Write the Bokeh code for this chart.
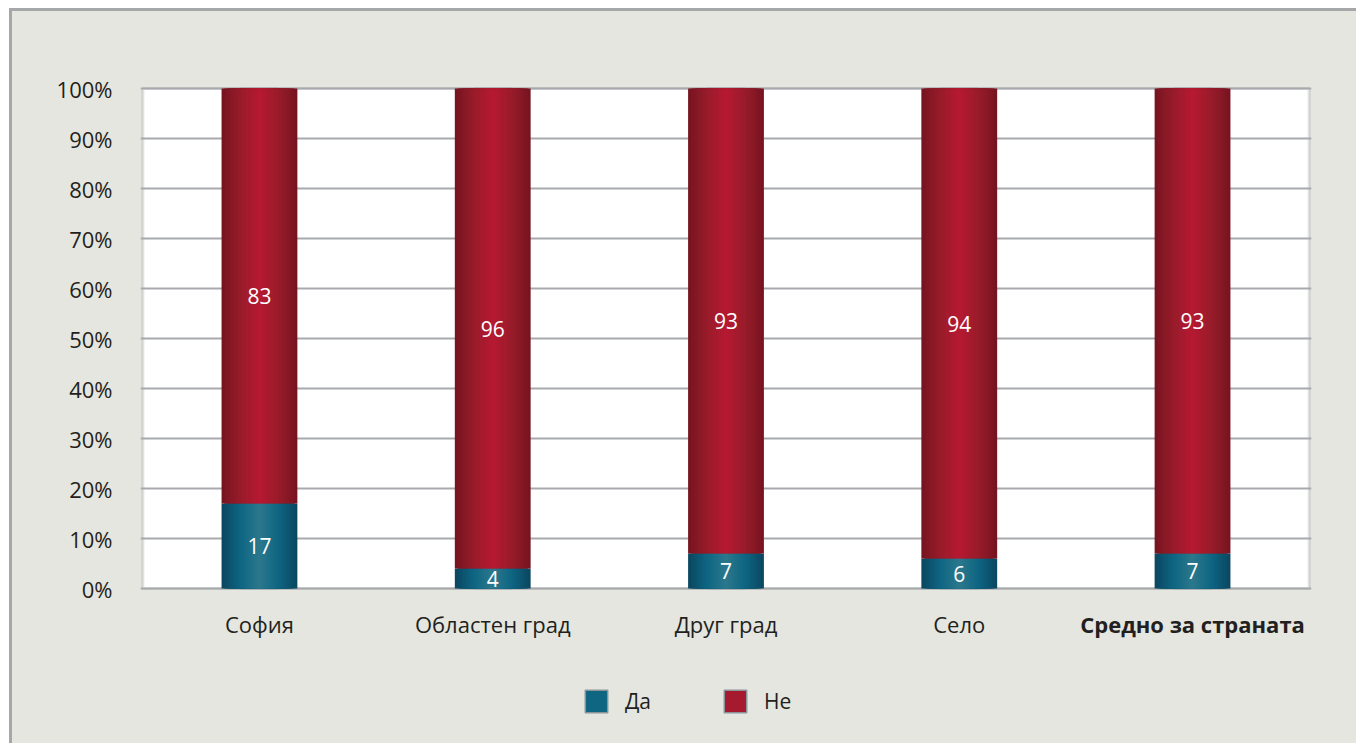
from bokeh.plotting import figure
from bokeh.models import ColumnDataSource, Legend, LegendItem, FixedTicker, BoxAnnotation, FactorRange, Range1d
from bokeh.core.properties import value
from bokeh.embed import file_html
from bokeh.resources import INLINE

# ---- data ----
categories = ["София", "Областен град", "Друг град", "Село", "Средно за страната"]
da = [17, 4, 7, 6, 7]
ne = [83, 96, 93, 94, 93]
series_names = ["Да", "Не"]
y_ticks = [0, 10, 20, 30, 40, 50, 60, 70, 80, 90, 100]
y_tick_labels = ["0%", "10%", "20%", "30%", "40%", "50%", "60%", "70%", "80%", "90%", "100%"]
bold_category = "Средно за страната"

# ---- styles / layout ----
FONT = "Open Sans"
FS = "21px"
FS_AX = "22px"
BG = "#e4e6df"
TXT = "#231f20"
BAR_W = 0.325
N_LAYERS = 14
Y_BOTTOM = -31          # extra room below 0% for category labels and legend
Y_TOP_PAD = 0.6         # keeps the top frame line inside the plotting area
CAT_LABEL_Y = -7.0
red_edge, red_mid, red_center = (0x78, 0x14, 0x20), (0x98, 0x1c, 0x2a), (0xb4, 0x19, 0x31)
teal_edge, teal_mid, teal_center = (0x0b, 0x48, 0x62), (0x0e, 0x66, 0x82), (0x2a, 0x76, 0x8b)


def blend(c0, c1, c2, t):
    if t < 0.5:
        a, b, u = c0, c1, t / 0.5
    else:
        a, b, u = c1, c2, (t - 0.5) / 0.5
    return "#%02x%02x%02x" % tuple(int(round(a[i] + (b[i] - a[i]) * u)) for i in range(3))


totals = [d + n for d, n in zip(da, ne)]
src = ColumnDataSource(dict(
    cat=categories,
    da=da,
    ne=ne,
    total=totals,
    zero=[0] * len(categories),
    da_mid=[d / 2 for d in da],
    ne_mid=[d + n / 2 for d, n in zip(da, ne)],
    da_txt=[str(d) for d in da],
    ne_txt=[str(n) for n in ne],
))

p = figure(
    x_range=FactorRange(factors=categories, range_padding=0.01, range_padding_units="absolute"),
    y_range=Range1d(Y_BOTTOM, y_ticks[-1] + Y_TOP_PAD),
    frame_width=1171, frame_height=658,
    min_border_left=128, min_border_right=45, min_border_top=74, min_border_bottom=0,
    output_backend="svg", toolbar_location=None,
    background_fill_color=None, border_fill_color=None,
)
p.styles = {"border-left": "3px solid #a6a7a9", "border-top": "3px solid #a6a7a9",
            "margin-left": "9px", "margin-top": "8px", "background-color": BG}
p.outline_line_color = None
p.xaxis.visible = False

# white plot area 0..100% with grey frame
p.add_layout(BoxAnnotation(left=0, right=len(categories), bottom=y_ticks[0], top=y_ticks[-1],
                           fill_color="white", fill_alpha=1,
                           line_color="#9d9ea1", line_width=3, level="image"))

p.xgrid.grid_line_color = None
p.ygrid.grid_line_color = "#a7a9ac"
p.ygrid.grid_line_width = 2
p.yaxis.ticker = FixedTicker(ticks=y_ticks)
p.yaxis.major_label_overrides = {t: l for t, l in zip(y_ticks, y_tick_labels)}
p.yaxis.axis_line_color = None
p.yaxis.major_tick_line_color = None
p.yaxis.minor_tick_line_color = None
p.yaxis.major_label_text_font = FONT
p.yaxis.major_label_text_font_size = FS_AX
p.yaxis.major_label_text_color = TXT
p.yaxis.major_label_standoff = 22

# legend swatch renderers (drawn first, hidden beneath the bars)
r_da = p.vbar(x="cat", width=BAR_W * 0.5, bottom="zero", top="da", source=src,
              fill_color="#0e6682", line_color="#8a9498", line_width=1.5)
r_ne = p.vbar(x="cat", width=BAR_W * 0.5, bottom="da", top="total", source=src,
              fill_color="#a51a2e", line_color="#8a9498", line_width=1.5)

# gradient-like bars: layered vbars from wide/dark to narrow/light
for k in range(N_LAYERS):
    t = k / (N_LAYERS - 1)
    w = BAR_W * (1 - k / N_LAYERS)
    p.vbar(x="cat", width=w, bottom="zero", top="da", source=src,
           fill_color=blend(teal_edge, teal_mid, teal_center, t), line_color=None)
    p.vbar(x="cat", width=w, bottom="da", top="total", source=src,
           fill_color=blend(red_edge, red_mid, red_center, t), line_color=None)

# value labels
for col_y, col_t in (("da_mid", "da_txt"), ("ne_mid", "ne_txt")):
    p.text(x="cat", y=col_y, text=col_t, source=src, text_color="white",
           text_font=value(FONT), text_font_size=FS,
           text_align="center", text_baseline="middle")

# category labels (last one bold)
cat_src = ColumnDataSource(dict(
    cat=categories,
    y=[CAT_LABEL_Y] * len(categories),
    style=["bold" if c == bold_category else "normal" for c in categories],
))
p.text(x="cat", y="y", text="cat", source=cat_src, text_color=TXT,
       text_font=value(FONT), text_font_size=FS_AX, text_font_style="style",
       text_align="center", text_baseline="middle")

legend = Legend(
    items=[LegendItem(label=series_names[0], renderers=[r_da]),
           LegendItem(label=series_names[1], renderers=[r_ne])],
    orientation="horizontal", location=(442, 28),
    glyph_width=28, glyph_height=28, label_standoff=15, spacing=70,
    label_text_font=FONT, label_text_font_size=FS, label_text_color=TXT,
    background_fill_alpha=0, border_line_color=None, padding=0, margin=0,
)
p.add_layout(legend, "center")

open("out.html", "w").write(file_html(p, INLINE))
